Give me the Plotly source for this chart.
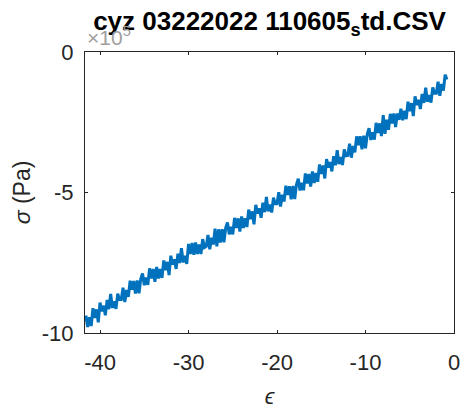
import plotly.graph_objects as go

# strain (epsilon) and stress (sigma, in units of 1e5 Pa)
strain = [
    -41.6, -41.4, -41.2, -41.0, -40.8, -40.6, -40.4, -40.2,
    -40.0, -39.8, -39.6, -39.4, -39.2, -39.0, -38.8, -38.6, -38.4, -38.2,
    -38.0, -37.8, -37.6, -37.4, -37.2, -37.0, -36.8, -36.6, -36.4, -36.2,
    -36.0, -35.8, -35.6, -35.4, -35.2, -35.0, -34.8, -34.6, -34.4, -34.2,
    -34.0, -33.8, -33.6, -33.4, -33.2, -33.0, -32.8, -32.6, -32.4, -32.2,
    -32.0, -31.8, -31.6, -31.4, -31.2, -31.0, -30.8, -30.6, -30.4, -30.2,
    -30.0, -29.8, -29.6, -29.4, -29.2, -29.0, -28.8, -28.6, -28.4, -28.2,
    -28.0, -27.8, -27.6, -27.4, -27.2, -27.0, -26.8, -26.6, -26.4, -26.2,
    -26.0, -25.8, -25.6, -25.4, -25.2, -25.0, -24.8, -24.6, -24.4, -24.2,
    -24.0, -23.8, -23.6, -23.4, -23.2, -23.0, -22.8, -22.6, -22.4, -22.2,
    -22.0, -21.8, -21.6, -21.4, -21.2, -21.0, -20.8, -20.6, -20.4, -20.2,
    -20.0, -19.8, -19.6, -19.4, -19.2, -19.0, -18.8, -18.6, -18.4, -18.2,
    -18.0, -17.8, -17.6, -17.4, -17.2, -17.0, -16.8, -16.6, -16.4, -16.2,
    -16.0, -15.8, -15.6, -15.4, -15.2, -15.0, -14.8, -14.6, -14.4, -14.2,
    -14.0, -13.8, -13.6, -13.4, -13.2, -13.0, -12.8, -12.6, -12.4, -12.2,
    -12.0, -11.8, -11.6, -11.4, -11.2, -11.0, -10.8, -10.6, -10.4, -10.2,
    -10.0, -9.8, -9.6, -9.4, -9.2, -9.0, -8.8, -8.6, -8.4, -8.2,
    -8.0, -7.8, -7.6, -7.4, -7.2, -7.0, -6.8, -6.6, -6.4, -6.2,
    -6.0, -5.8, -5.6, -5.4, -5.2, -5.0, -4.8, -4.6, -4.4, -4.2,
    -4.0, -3.8, -3.6, -3.4, -3.2, -3.0, -2.8, -2.6, -2.4, -2.2,
    -2.0, -1.8, -1.6, -1.4, -1.2, -1.0, -0.8,
]
stress = [
    -9.38, -9.79, -9.44, -9.75, -9.12, -9.46, -9.16, -9.62,
    -8.92, -9.23, -9.03, -9.37, -8.82, -9.15, -8.61, -9.11, -8.87, -9.14,
    -8.60, -8.81, -8.81, -8.39, -8.90, -8.47, -8.71, -8.14, -8.46, -8.15,
    -8.60, -8.13, -8.59, -8.08, -7.88, -8.30, -8.03, -8.29, -7.70, -8.06,
    -7.72, -8.18, -7.65, -8.06, -7.72, -8.04, -7.42, -7.76, -7.47, -7.94,
    -7.25, -7.56, -7.38, -7.72, -7.18, -7.51, -6.98, -7.49, -7.25, -7.54,
    -6.83, -7.19, -6.80, -7.22, -6.78, -7.19, -6.85, -7.19, -6.66, -6.96,
    -6.92, -6.51, -7.02, -6.61, -6.85, -6.29, -6.92, -6.31, -6.78, -6.31,
    -6.77, -6.26, -6.07, -6.49, -6.22, -6.49, -5.90, -6.26, -5.92, -6.39,
    -5.85, -6.26, -5.92, -6.23, -5.61, -5.95, -5.67, -6.13, -5.44, -5.75,
    -5.56, -5.90, -5.36, -5.70, -5.16, -5.67, -5.43, -5.71, -5.18, -5.40,
    -5.40, -4.99, -5.50, -5.08, -5.32, -4.76, -5.09, -4.78, -5.24, -4.77,
    -5.23, -4.72, -4.51, -4.93, -4.66, -4.92, -4.32, -4.68, -4.34, -4.79,
    -4.25, -4.66, -4.31, -4.62, -4.00, -4.34, -4.04, -4.50, -3.81, -4.11,
    -3.92, -4.25, -3.71, -4.03, -3.49, -3.99, -3.74, -4.02, -3.47, -3.69,
    -3.68, -3.26, -3.76, -3.34, -3.57, -3.00, -3.32, -3.00, -3.46, -2.98,
    -3.43, -2.92, -2.71, -3.13, -2.86, -3.12, -2.52, -2.88, -2.54, -2.99,
    -2.25, -2.91, -2.41, -2.77, -2.20, -2.54, -2.19, -2.67, -2.19, -2.41,
    -2.02, -2.43, -2.09, -2.39, -1.77, -2.11, -1.82, -2.28, -1.58, -1.89,
    -1.70, -2.03, -1.49, -1.81, -1.27, -1.77, -1.53, -1.80, -1.26, -1.47,
    -1.47, -1.06, -1.56, -1.14, -1.37, -0.81, -0.98,
]

x_ticks = [-40, -30, -20, -10, 0]
x_labels = ["-40", "-30", "-20", "-10", "0"]
y_ticks = [-10, -5, 0]
y_labels = ["-10", "-5", "0"]

axis_col = "#262626"
font = "Liberation Sans, Arial, sans-serif"

fig = go.Figure(go.Scatter(x=strain, y=stress, mode="lines",
                           line=dict(color="#0072BD", width=3)))

ax = dict(showgrid=False, zeroline=False, showline=True, mirror="ticks",
          linecolor=axis_col, linewidth=1, ticks="inside", ticklen=3,
          tickcolor=axis_col, tickfont=dict(size=22, color=axis_col, family=font))

# page body adds an 8px offset, so the figure is 8px smaller than the window
fig.update_layout(
    width=461, height=406,
    margin=dict(l=77, r=9, t=44, b=81),
    paper_bgcolor="white", plot_bgcolor="white",
    showlegend=False,
    title=dict(text="<b>cyz 03222022 110605<sub>s</sub>td.CSV</b>",
               x=0.5, xref="paper", xanchor="center", y=0.99, yanchor="top",
               font=dict(size=26, color="black", family=font)),
    xaxis=dict(ax, range=[-41.7, 0], tickvals=x_ticks, ticktext=x_labels,
               ticklabelstandoff=10,
               title=dict(text="<i>ϵ</i>", standoff=14,
                          font=dict(size=22, color=axis_col, family=font))),
    yaxis=dict(ax, range=[-10, 0], tickvals=y_ticks, ticktext=y_labels,
               ticklabelstandoff=6,
               title=dict(text="<i>σ</i> (Pa)", standoff=4,
                          font=dict(size=23, color=axis_col, family=font))),
)

fig.add_annotation(text="×10<sup>5</sup>", xref="paper", yref="paper",
                   x=0, y=1.0, xanchor="left", yanchor="bottom", yshift=1,
                   showarrow=False,
                   font=dict(size=21, color="#a0a0a0", family=font))

fig.write_html("out.html")
